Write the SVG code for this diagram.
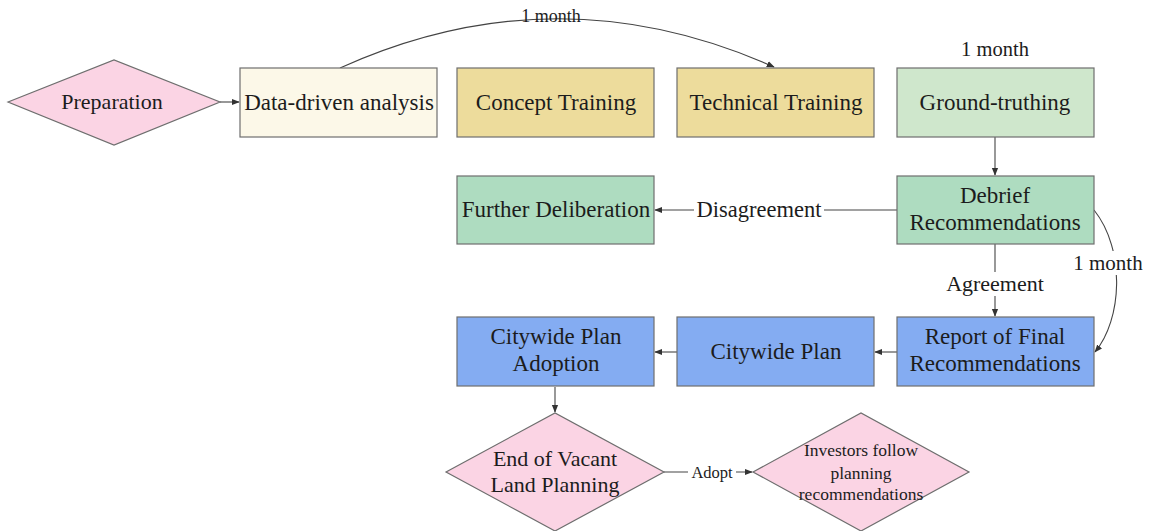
<svg xmlns="http://www.w3.org/2000/svg" width="1149" height="531" viewBox="0 0 1149 531">
  <defs>
    <marker id="arrow" viewBox="0 0 10 10" refX="9" refY="5" markerWidth="8" markerHeight="8" markerUnits="userSpaceOnUse" orient="auto">
      <path d="M0,1 L10,5 L0,9 Z" fill="#333"/>
    </marker>
    <style>
      .box { stroke: #6e6e6e; stroke-width: 1.2; }
      .cream { fill: #fcf8e8; }
      .khaki { fill: #eddc9c; }
      .lgreen { fill: #cfe7cc; }
      .mint { fill: #aedcc0; }
      .blue { fill: #84acf2; }
      .pink { fill: #fbd4e4; }
      .lbl { fill: #1c1c1c; text-anchor: middle; }
      .edge { fill: none; stroke: #444; stroke-width: 1.1; }
      .bg { fill: #ffffff; }
    </style>
  </defs>
  <rect width="1149" height="531" fill="#ffffff"/>

  <g font-family="Liberation Serif, Times New Roman, serif">
  <!-- connectors -->
  <g id="connectors">
    <path class="edge" d="M220 102 L239 102" marker-end="url(#arrow)"/>
    <path class="edge" d="M340 68 Q557 -30 774 67" marker-end="url(#arrow)"/>
    <text class="lbl" x="551" y="22" font-size="18">1 month</text>
    <path class="edge" d="M995 137 L995 175" marker-end="url(#arrow)"/>
    <path class="edge" d="M897 210 L655 210" marker-end="url(#arrow)"/>
    <rect class="bg" x="694" y="198" width="130" height="24"/>
    <text class="lbl" x="759" y="217" font-size="22.5">Disagreement</text>
    <path class="edge" d="M995 244 L995 316" marker-end="url(#arrow)"/>
    <rect class="bg" x="944" y="272" width="102" height="24"/>
    <text class="lbl" x="995" y="291" font-size="22">Agreement</text>
    <path class="edge" d="M1094 210 C1126 250 1122 320 1095 352" marker-end="url(#arrow)"/>
    <rect class="bg" x="1073" y="251" width="72" height="24"/>
    <text class="lbl" x="1108" y="270" font-size="21">1 month</text>
    <path class="edge" d="M897 352 L875 352" marker-end="url(#arrow)"/>
    <path class="edge" d="M677 352 L655 352" marker-end="url(#arrow)"/>
    <path class="edge" d="M555 387 L555 412" marker-end="url(#arrow)"/>
    <path class="edge" d="M664 472 L752 472" marker-end="url(#arrow)"/>
    <rect class="bg" x="688" y="463" width="48" height="18"/>
    <text class="lbl" x="712" y="478" font-size="16.5">Adopt</text>
  </g>

  <text class="lbl" x="995" y="56" font-size="20.5">1 month</text>

  <g id="preparation">
    <polygon class="box pink" points="8,102 114,60 220,102 114,145"/>
    <text class="lbl" x="112" y="109" font-size="22">Preparation</text>
  </g>
  <g id="data-driven-analysis">
    <rect class="box cream" x="240" y="68" width="197" height="69"/>
    <text class="lbl" x="339" y="110" font-size="23">Data-driven analysis</text>
  </g>
  <g id="concept-training">
    <rect class="box khaki" x="457" y="68" width="197" height="69"/>
    <text class="lbl" x="556" y="110" font-size="23">Concept Training</text>
  </g>
  <g id="technical-training">
    <rect class="box khaki" x="677" y="68" width="197" height="69"/>
    <text class="lbl" x="776" y="110" font-size="23">Technical Training</text>
  </g>
  <g id="ground-truthing">
    <rect class="box lgreen" x="897" y="68" width="197" height="69"/>
    <text class="lbl" x="995" y="110" font-size="23">Ground-truthing</text>
  </g>
  <g id="debrief-recommendations">
    <rect class="box mint" x="897" y="176" width="197" height="68"/>
    <text class="lbl" x="995" y="203" font-size="23">Debrief</text>
    <text class="lbl" x="995" y="230" font-size="23">Recommendations</text>
  </g>
  <g id="further-deliberation">
    <rect class="box mint" x="457" y="176" width="197" height="68"/>
    <text class="lbl" x="556" y="217" font-size="23">Further Deliberation</text>
  </g>
  <g id="report-final-recommendations">
    <rect class="box blue" x="897" y="317" width="197" height="69"/>
    <text class="lbl" x="995" y="344" font-size="23">Report of Final</text>
    <text class="lbl" x="995" y="371" font-size="23">Recommendations</text>
  </g>
  <g id="citywide-plan">
    <rect class="box blue" x="677" y="317" width="197" height="69"/>
    <text class="lbl" x="776" y="359" font-size="23">Citywide Plan</text>
  </g>
  <g id="citywide-plan-adoption">
    <rect class="box blue" x="457" y="317" width="197" height="69"/>
    <text class="lbl" x="556" y="344" font-size="23">Citywide Plan</text>
    <text class="lbl" x="556" y="371" font-size="23">Adoption</text>
  </g>
  <g id="end-vacant-land-planning">
    <polygon class="box pink" points="446,472 555,413 664,472 555,531"/>
    <text class="lbl" x="555" y="466" font-size="22">End of Vacant</text>
    <text class="lbl" x="555" y="492" font-size="22">Land Planning</text>
  </g>
  <g id="investors-follow">
    <polygon class="box pink" points="753,472 861,413 969,472 861,531"/>
    <text class="lbl" x="861" y="456" font-size="17.5">Investors follow</text>
    <text class="lbl" x="861" y="479" font-size="17.5">planning</text>
    <text class="lbl" x="861" y="500" font-size="17.5">recommendations</text>
  </g>
  </g>
</svg>
